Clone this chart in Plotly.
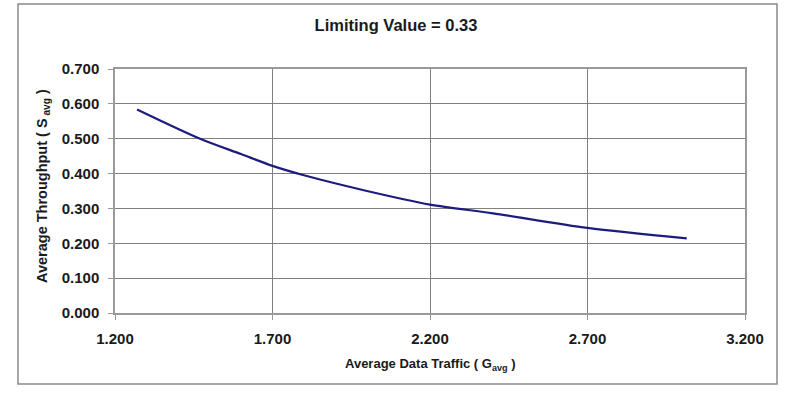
import plotly.graph_objects as go

# Data
traffic_g = [1.27, 1.47, 1.60, 1.70, 1.80, 2.00, 2.20, 2.40, 2.70, 3.015]
throughput_s = [0.584, 0.500, 0.456, 0.422, 0.395, 0.350, 0.311, 0.286, 0.244, 0.214]

title_text = "Limiting Value = 0.33"
x_title = "Average Data Traffic ( G<sub>avg</sub> )"
y_title = "Average Throughput ( S<sub> avg</sub> )"

FONT = "Liberation Sans, Arial, sans-serif"
GRID = "#808080"
TXT = "#1a1a1a"

fig = go.Figure()
fig.add_trace(go.Scatter(
    x=traffic_g, y=throughput_s, mode="lines",
    line=dict(color="#1c1c7c", width=2.2, shape="spline", smoothing=0.8),
    showlegend=False, hoverinfo="x+y",
))

L, R, T, B = 115, 55, 69, 81
W, H = 800, 394
pw = W - L - R
ph = H - T - B

def px_x(x):
    return (x - L) / pw

def px_y(y):
    return (H - B - y) / ph

fig.update_layout(
    width=W, height=H,
    margin=dict(l=L, r=R, t=T, b=B),
    paper_bgcolor="white", plot_bgcolor="white",
    font=dict(family=FONT, color=TXT),
    title=dict(text="<b>" + title_text + "</b>", x=396 / W, xref="container", xanchor="center",
               y=1 - 25 / H, yref="container", yanchor="middle",
               font=dict(size=16.5, family=FONT, color=TXT)),
    xaxis=dict(range=[1.2, 3.2], dtick=0.5, tick0=1.2, tickformat=".3f",
               showgrid=True, gridcolor=GRID, gridwidth=1,
               showline=True, linecolor="#999999", linewidth=1.5, mirror=True,
               ticks="outside", ticklen=5, tickcolor="#999999",
               ticklabelstandoff=6,
               tickfont=dict(size=15, family=FONT, color=TXT, weight="bold"),
               zeroline=False, fixedrange=True),
    yaxis=dict(range=[0, 0.7], dtick=0.1, tick0=0, tickformat=".3f",
               showgrid=True, gridcolor=GRID, gridwidth=1,
               showline=True, linecolor="#999999", linewidth=1.5, mirror=True,
               ticks="outside", ticklen=5, tickcolor="#999999",
               ticklabelstandoff=6,
               tickfont=dict(size=15, family=FONT, color=TXT, weight="bold"),
               zeroline=False, fixedrange=True),
    annotations=[
        dict(text="<b>" + y_title + "</b>", xref="paper", yref="paper",
             x=px_x(43), y=px_y(186), textangle=-90, showarrow=False,
             xanchor="center", yanchor="middle",
             font=dict(size=14.5, family=FONT, color=TXT)),
        dict(text="<b>" + x_title + "</b>", xref="paper", yref="paper",
             x=px_x(430), y=px_y(364), showarrow=False,
             xanchor="center", yanchor="middle",
             font=dict(size=13, family=FONT, color=TXT)),
    ],
    shapes=[
        dict(type="rect", xref="paper", yref="paper",
             x0=px_x(18), x1=px_x(777), y0=px_y(384), y1=px_y(4),
             line=dict(color="#8a8a8a", width=1.5), fillcolor="rgba(0,0,0,0)",
             layer="below"),
    ],
)

fig.write_html("out.html", config={"displayModeBar": False},
               post_script="document.body.style.margin='0px';")
